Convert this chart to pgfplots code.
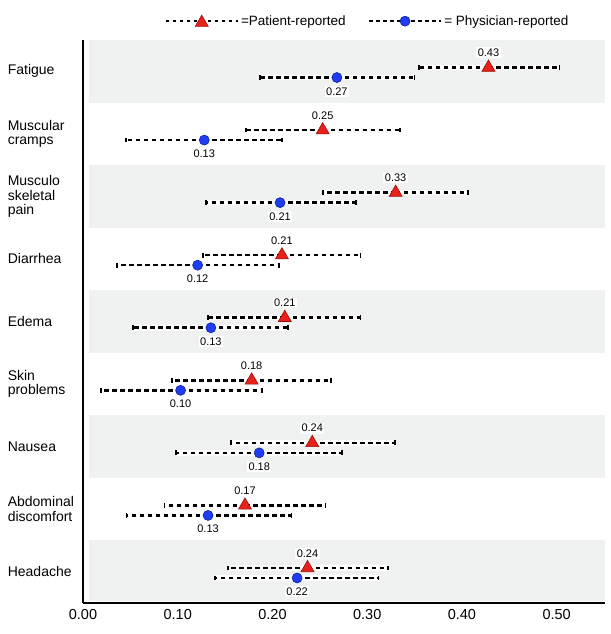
\documentclass[border=0pt]{standalone}
\usepackage{fontspec}
\setmainfont{Liberation Sans}
\usepackage{pgfplots}
\pgfplotsset{compat=1.18}
\usepackage{pgfplotstable}

\definecolor{bandgray}{HTML}{F0F1F1}
\definecolor{trired}{HTML}{E8221B}
\definecolor{tridark}{HTML}{9A0F0A}
\definecolor{dotblue}{HTML}{1E3DF5}
\definecolor{dotdark}{HTML}{0F1F9A}

% y: 9 = Fatigue ... 1 = Headache
\pgfplotstableread{
y x lo hi lab
9 0.428 0.355 0.503 0.43
8 0.253 0.172 0.335 0.25
7 0.330 0.253 0.406 0.33
6 0.210 0.127 0.293 0.21
5 0.213 0.132 0.293 0.21
4 0.178 0.094 0.262 0.18
3 0.242 0.156 0.329 0.24
2 0.171 0.086 0.256 0.17
1 0.237 0.153 0.322 0.24
}\patient

\pgfplotstableread{
y x lo hi lab
9 0.268 0.187 0.350 0.27
8 0.128 0.045 0.210 0.13
7 0.208 0.130 0.288 0.21
6 0.121 0.036 0.207 0.12
5 0.135 0.053 0.216 0.13
4 0.103 0.019 0.189 0.10
3 0.186 0.098 0.273 0.18
2 0.132 0.046 0.220 0.13
1 0.226 0.139 0.312 0.22
}\physician

\begin{document}
\begin{tikzpicture}
\begin{axis}[
  width=522pt, height=563pt, scale only axis,
  xmin=0, xmax=0.551, ymin=0.5, ymax=9.5,
  axis x line=bottom, axis y line=left,
  axis line style={black, line width=1.3pt, -},
  axis on top,
  clip=false,
  major tick length=0pt,
  xtick={0,0.1,0.2,0.3,0.4,0.5},
  xticklabel={\pgfmathprintnumber[fixed,fixed zerofill,precision=2,assume math mode=true]{\tick}},
  xticklabel style={font=\fontsize{14.5}{17}\selectfont, yshift=-3pt},
  ytick={1,2,3,4,5,6,7,8,9},
  yticklabels={Headache,{Abdominal\\discomfort},Nausea,{Skin\\problems},Edema,Diarrhea,{Musculo\\skeletal\\pain},{Muscular\\cramps},Fatigue},
  yticklabel style={font=\fontsize{14}{14.5}\selectfont, align=left, text width=75pt, inner sep=0pt, anchor=east},
  legend columns=2,
  legend style={at={(0.545,1)}, anchor=south, yshift=9pt, draw=none, fill=none,
    font=\fontsize{13.5}{16}\selectfont,
    /tikz/every even column/.append style={column sep=20pt}},
]
\coordinate (O) at (rel axis cs:0,0);

% background bands
\addplot[fill=bandgray, draw=none, forget plot] coordinates {(0.006,8.5) (0.551,8.5) (0.551,9.5) (0.006,9.5)} -- cycle;
\addplot[fill=bandgray, draw=none, forget plot] coordinates {(0.006,6.5) (0.551,6.5) (0.551,7.5) (0.006,7.5)} -- cycle;
\addplot[fill=bandgray, draw=none, forget plot] coordinates {(0.006,4.5) (0.551,4.5) (0.551,5.5) (0.006,5.5)} -- cycle;
\addplot[fill=bandgray, draw=none, forget plot] coordinates {(0.006,2.5) (0.551,2.5) (0.551,3.5) (0.006,3.5)} -- cycle;
\addplot[fill=bandgray, draw=none, forget plot] coordinates {(0.006,0.53) (0.551,0.53) (0.551,1.5) (0.006,1.5)} -- cycle;

% white halo under the CI lines
\addplot[forget plot, draw=none, mark=none, line width=5.5pt,
  error bars/.cd, x dir=both, x explicit, error mark=none,
  error bar style={draw=white, solid, line width=5.5pt}]
  table[x=x, y expr=\thisrow{y}+0.06,
    x error plus expr=\thisrow{hi}-\thisrow{x},
    x error minus expr=\thisrow{x}-\thisrow{lo}] {\patient};
\addplot[forget plot, draw=none, mark=none, line width=5.5pt,
  error bars/.cd, x dir=both, x explicit, error mark=none,
  error bar style={draw=white, solid, line width=5.5pt}]
  table[x=x, y expr=\thisrow{y}-0.1,
    x error plus expr=\thisrow{hi}-\thisrow{x},
    x error minus expr=\thisrow{x}-\thisrow{lo}] {\physician};

% dashed CI lines
\addplot[forget plot, draw=none, mark=none, line width=2.6pt,
  error bars/.cd, x dir=both, x explicit, error mark=|,
  error bar style={draw=black, line width=2.6pt, dash pattern=on 4.5pt off 3.5pt},
  error mark options={black, solid, line width=1.8pt, mark size=2.4pt}]
  table[x=x, y expr=\thisrow{y}+0.06,
    x error plus expr=\thisrow{hi}-\thisrow{x},
    x error minus expr=\thisrow{x}-\thisrow{lo}] {\patient};
\addplot[forget plot, draw=none, mark=none, line width=2.6pt,
  error bars/.cd, x dir=both, x explicit, error mark=|,
  error bar style={draw=black, line width=2.6pt, dash pattern=on 4.5pt off 3.5pt},
  error mark options={black, solid, line width=1.8pt, mark size=2.4pt}]
  table[x=x, y expr=\thisrow{y}-0.1,
    x error plus expr=\thisrow{hi}-\thisrow{x},
    x error minus expr=\thisrow{x}-\thisrow{lo}] {\physician};

% point estimates
\addplot[only marks, mark=triangle*, mark size=7.5pt,
  mark options={fill=trired, draw=tridark, line width=0.6pt, solid},
  point meta=explicit symbolic, nodes near coords,
  every node near coord/.append style={anchor=south, yshift=9pt, fill=white, inner sep=1.5pt, text=black, font=\fontsize{11}{13}\selectfont},
  legend image code/.code={
    \draw[black, solid, line width=2.6pt, dash pattern=on 3.5pt off 3.5pt] (0pt,0pt) -- (72pt,0pt);
    \draw plot[only marks] coordinates {(36pt,-1.5pt)};}]
  table[x=x, y expr=\thisrow{y}+0.06, meta=lab] {\patient};
\addlegendentry{=Patient-reported}

\addplot[only marks, mark=*, mark size=5pt,
  mark options={fill=dotblue, draw=dotdark, line width=0.6pt, solid},
  point meta=explicit symbolic, nodes near coords,
  every node near coord/.append style={anchor=north, yshift=-8pt, fill=white, inner sep=1.5pt, text=black, font=\fontsize{11}{13}\selectfont},
  legend image code/.code={
    \draw[black, solid, line width=2.6pt, dash pattern=on 3.5pt off 3.5pt] (0pt,0pt) -- (72pt,0pt);
    \draw plot[only marks] coordinates {(36pt,0pt)};}]
  table[x=x, y expr=\thisrow{y}-0.1, meta=lab] {\physician};
\addlegendentry{= Physician-reported}
\end{axis}
\path (O) ++(-83pt,-31pt) rectangle ++(610pt,634pt);
\end{tikzpicture}
\end{document}
